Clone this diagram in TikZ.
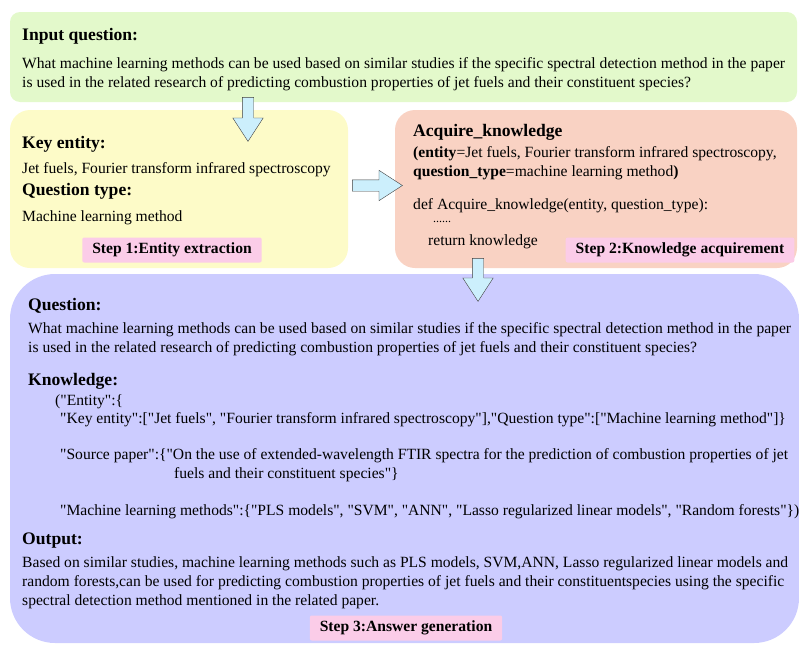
\documentclass[tikz,border=0pt]{standalone}
\usepackage{fontspec}
\setmainfont{Liberation Serif}[Ligatures=TeXOff]
\usetikzlibrary{shapes.arrows}
\definecolor{qgreen}{RGB}{227,249,203}
\definecolor{qyellow}{RGB}{253,251,200}
\definecolor{qsalmon}{RGB}{249,210,195}
\tikzset{
	txt/.style={anchor=north west, inner sep=0pt, align=left, font=\fontsize{15.6}{19}\selectfont},
	head/.style={anchor=north west, inner sep=0pt, font=\bfseries\fontsize{17.6}{19}\selectfont},
	steplabel/.style={fill=magenta!20!white, rounded corners=2pt, inner xsep=10pt, minimum height=25pt, font=\bfseries\fontsize{15.6}{17}\selectfont},
	blockarrow/.style={single arrow, draw=black!75, fill=cyan!20!white, inner sep=5.5pt, minimum width=30pt, single arrow head extend=9.5pt, single arrow tip angle=66, single arrow head indent=0pt}
}
\begin{document}
\begin{tikzpicture}[x=1pt, y=-1pt]
	\useasboundingbox (0,0) rectangle (799,645);
	% boxes
	\fill[qgreen, rounded corners=10pt] (10,12) rectangle (797,102);
	\fill[qyellow, rounded corners=20pt] (10,110) rectangle (348,268);
	\fill[qsalmon, rounded corners=20pt] (395,110) rectangle (797,268);
	\fill[blue!20!white, rounded corners=45pt] (10,274) rectangle (799,643);
	% input question
	\node[head] (inhead) at (22,28) {Input question:};
	\node[txt] (intext) at (22,57) {What machine learning methods can be used based on similar studies if the specific spectral detection method in the paper\\is used in the related research of predicting combustion properties of jet fuels and their constituent species?};
	% step 1
	\node[head] (enthead) at (22,136) {Key entity:};
	\node[txt] (enttext) at (22,162) {Jet fuels, Fourier transform infrared spectroscopy};
	\node[head] (typehead) at (22,183) {Question type:};
	\node[txt] (typetext) at (22,210) {Machine learning method};
	\node[steplabel] (step1) at (172,250) {Step 1:Entity extraction};
	% step 2
	\node[head] (acqhead) at (413,124) {Acquire\_knowledge};
	\node[txt] (acqargs) at (413,146) {\textbf{(entity}=Jet fuels, Fourier transform infrared spectroscopy,\\\textbf{question\_type}=machine learning method\textbf{)}};
	\node[txt] (acqdef) at (413,198) {def Acquire\_knowledge(entity, question\_type):};
	\node[txt] (acqdots) at (433,221) {\fontsize{12}{12}\selectfont ......};
	\node[txt] (acqret) at (428,234) {return knowledge};
	\node[steplabel] (step2) at (680,250) {Step 2:Knowledge acquirement};
	% step 3
	\node[head] (qhead) at (28,298) {Question:};
	\node[txt] (qtext) at (28,322) {What machine learning methods can be used based on similar studies if the specific spectral detection method in the paper\\is used in the related research of predicting combustion properties of jet fuels and their constituent species?};
	\node[head] (khead) at (28,373) {Knowledge:};
	\node[txt] (kent) at (55,394) {("Entity":\{};
	\node[txt] (kkey) at (60,412) {"Key entity":["Jet fuels", "Fourier transform infrared spectroscopy"],"Question type":["Machine learning method"]\}};
	\node[txt] (ksrc) at (60,448) {"Source paper":\{"On the use of extended-wavelength FTIR spectra for the prediction of combustion properties of jet};
	\node[txt] (ksrcb) at (174,467) {fuels and their constituent species"\}};
	\node[txt] (kml) at (60,504) {"Machine learning methods":\{"PLS models", "SVM", "ANN", "Lasso regularized linear models", "Random forests"\})};
	\node[head] (ohead) at (22,533) {Output:};
	\node[txt] (otext) at (22,556) {Based on similar studies, machine learning methods such as PLS models, SVM,ANN, Lasso regularized linear models and\\random forests,can be used for predicting combustion properties of jet fuels and their constituentspecies using the specific\\spectral detection method mentioned in the related paper.};
	\node[steplabel] (step3) at (406,628) {Step 3:Answer generation};
	% arrows
	\node[blockarrow, minimum height=44pt, rotate=-90] (arrowa) at (248,115) {};
	\node[blockarrow, minimum height=50pt] (arrowb) at (373,185.5) {};
	\node[blockarrow, minimum height=43pt, rotate=-90] (arrowc) at (478,275.5) {};
\end{tikzpicture}
\end{document}
